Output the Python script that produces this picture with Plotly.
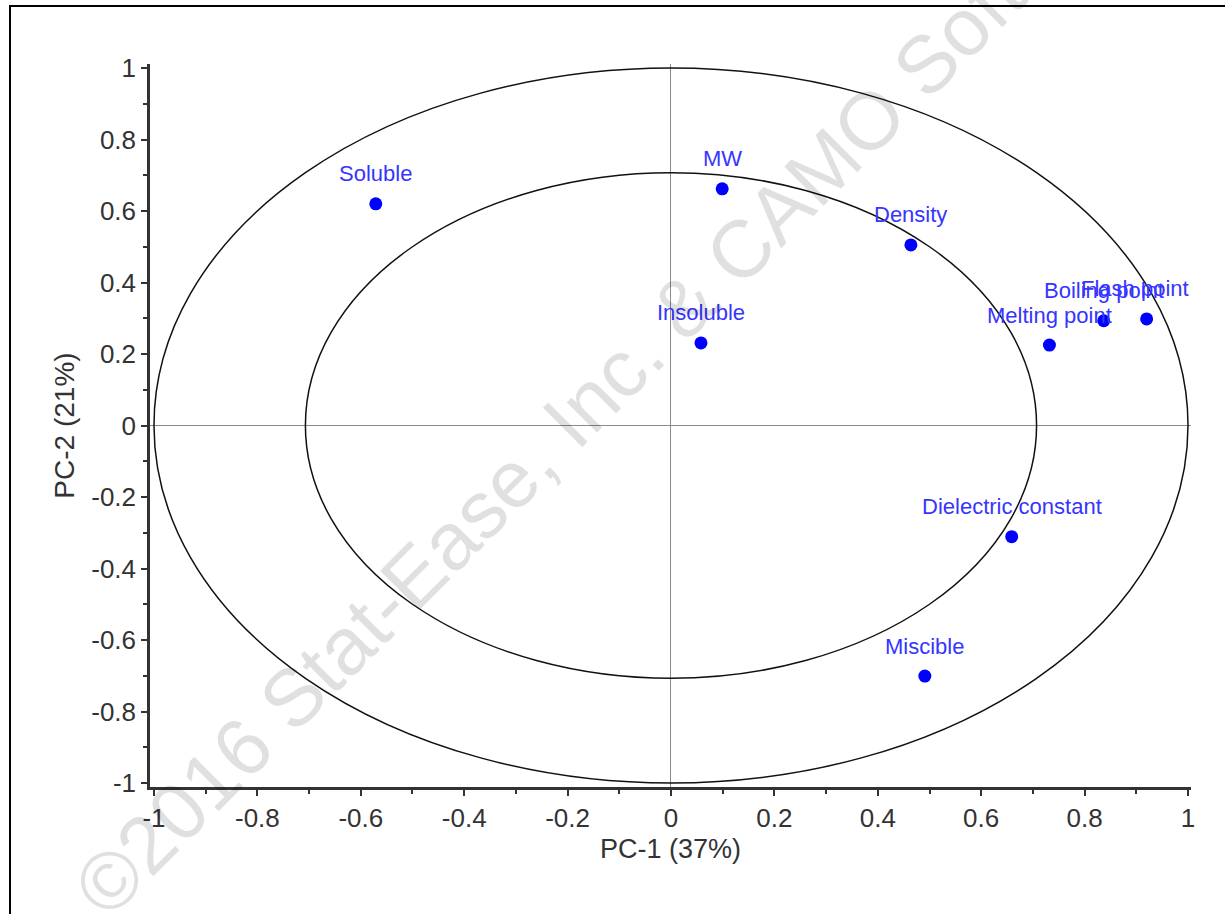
import plotly.graph_objects as go

# ---- data ----
variables = ["Soluble", "MW", "Density", "Insoluble", "Melting point",
             "Boiling point", "Flash point", "Dielectric constant", "Miscible"]
pc1 = [-0.571, 0.099, 0.464, 0.058, 0.732, 0.837, 0.920, 0.659, 0.491]
pc2 = [0.620, 0.662, 0.505, 0.231, 0.225, 0.293, 0.298, -0.311, -0.701]
ellipse_radii = [1.0, 0.7071]
tick_vals = [-1, -0.8, -0.6, -0.4, -0.2, 0, 0.2, 0.4, 0.6, 0.8, 1]
tick_text = ["-1", "-0.8", "-0.6", "-0.4", "-0.2", "0", "0.2", "0.4", "0.6", "0.8", "1"]
x_title = "PC-1 (37%)"
y_title = "PC-2 (21%)"
watermark = "©2016 Stat-Ease, Inc. & CAMO Software"

# label offsets (styling only)
label_xshift = {"Flash point": -12}

FONT = "Liberation Sans, Arial, sans-serif"
W, H = 1225, 914
ML, MR, MT, MB = 150, 34, 64, 127
XR = [-1.0077, 1.0058]
YR = [-1.0112, 1.0112]

fig = go.Figure()

fig.add_trace(go.Scatter(
    x=pc1, y=pc2, mode="markers",
    marker=dict(color="#0000ff", size=13, line=dict(width=0)),
    hovertext=variables, hoverinfo="text", showlegend=False,
))

shapes = []
for r in ellipse_radii:
    shapes.append(dict(type="circle", xref="x", yref="y",
                       x0=-r, x1=r, y0=-r, y1=r,
                       line=dict(color="#111111", width=1.5), layer="above"))

# outer frame (extends beyond visible page on right/bottom)
pw = W - ML - MR
ph = H - MT - MB
def px_to_paper_x(px):
    return (px - ML) / pw
def py_to_paper_y(py):
    return (H - MB - py) / ph
shapes.append(dict(type="rect", xref="paper", yref="paper",
                   x0=px_to_paper_x(10), x1=px_to_paper_x(W + 20),
                   y0=py_to_paper_y(H + 20), y1=py_to_paper_y(6),
                   line=dict(color="#000000", width=2), fillcolor="rgba(0,0,0,0)"))

annotations = []
for name, x, y in zip(variables, pc1, pc2):
    annotations.append(dict(x=x, y=y, xref="x", yref="y", text=name,
                            showarrow=False, yshift=30,
                            xshift=label_xshift.get(name, 0),
                            xanchor="center", yanchor="middle",
                            font=dict(family=FONT, size=22, color="#3535ff")))

# watermark
annotations.append(dict(x=px_to_paper_x(611), y=py_to_paper_y(379),
                        xref="paper", yref="paper", text=watermark,
                        showarrow=False, textangle=-45,
                        xanchor="center", yanchor="middle",
                        font=dict(family=FONT, size=81, color="rgba(0,0,0,0.12)")))

axis_common = dict(
    showgrid=False, zeroline=True, zerolinecolor="#8a8a8a", zerolinewidth=1,
    showline=True, linecolor="#333333", linewidth=2.5, mirror=False,
    ticks="outside", ticklen=6, tickwidth=2, tickcolor="#333333",
    tickvals=tick_vals, ticktext=tick_text,
    tickfont=dict(family=FONT, size=26, color="#333333"),
    minor=dict(ticks="outside", ticklen=4, tickwidth=2, tickcolor="#333333", dtick=0.1, tick0=0),
)

fig.update_layout(
    width=W, height=H,
    margin=dict(l=ML, r=MR, t=MT, b=MB, pad=0),
    paper_bgcolor="white", plot_bgcolor="white",
    xaxis=dict(range=XR, **axis_common,
               title=dict(text=x_title, standoff=8,
                          font=dict(family=FONT, size=27, color="#333333"))),
    yaxis=dict(range=YR, **axis_common,
               title=dict(text=y_title, standoff=9,
                          font=dict(family=FONT, size=28, color="#333333"))),
    shapes=shapes,
    annotations=annotations,
)

fig.write_html("out.html")
